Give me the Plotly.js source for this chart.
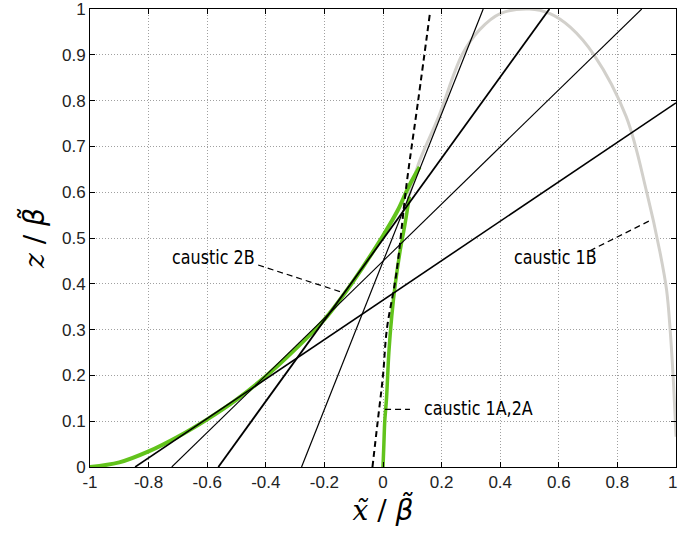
<!DOCTYPE html>
<html>
<head>
<meta charset="utf-8">
<script src="https://cdn.plot.ly/plotly-3.0.1.min.js"></script>
<style>
html,body{margin:0;padding:0;background:#fff;}
#chart{width:678px;height:535px;}
</style>
</head>
<body>
<div id="chart"></div>
<script>
// ---- data ----
// caustic 1B (grey arc)
const caustic1B_x = [0.085, 0.12, 0.19, 0.27, 0.33, 0.40, 0.50, 0.57, 0.64, 0.72, 0.83, 0.90, 0.945, 0.968, 0.98, 0.99, 0.997, 1.0];
const caustic1B_z = [0.58, 0.66, 0.765, 0.90, 0.955, 0.99, 1.0, 0.99, 0.96, 0.90, 0.765, 0.60, 0.47, 0.386, 0.30, 0.20, 0.11, 0.066];
// caustic 2B (green, left)
const caustic2B_x = [-1, -0.9, -0.8, -0.7, -0.6, -0.5, -0.4, -0.3, -0.2, -0.1, 0, 0.05, 0.09, 0.125];
const caustic2B_z = [0, 0.01, 0.034, 0.066, 0.104, 0.147, 0.198, 0.257, 0.322, 0.407, 0.505, 0.56, 0.615, 0.655];
// caustic 1A,2A (green, nearly vertical)
const caustic1A_x = [0, 0.003, 0.006, 0.012, 0.02, 0.03, 0.042, 0.058, 0.075, 0.09];
const caustic1A_z = [0, 0.05, 0.1, 0.15, 0.25, 0.33, 0.4, 0.47, 0.53, 0.59];
// dashed caustic
const dashed_x = [-0.036, -0.018, 0.0, 0.013, 0.045, 0.081, 0.12, 0.16];
const dashed_z = [0, 0.1, 0.2, 0.3, 0.42, 0.62, 0.8, 0.99];
// tangent rays (start, end)
const ray1_x = [-0.846, 1.0],  ray1_z = [0, 0.795];
const ray2_x = [-0.721, 0.883], ray2_z = [0, 1];
const ray3_x = [-0.562, 0.568], ray3_z = [0, 1];
const ray4_x = [-0.278, 0.342], ray4_z = [0, 1];
// label pointers
const ptr2B_x = [-0.426, -0.147], ptr2B_z = [0.441, 0.383];
const ptr1B_x = [0.706, 0.911],   ptr1B_z = [0.472, 0.538];
const ptr1A_x = [0.007, 0.092],   ptr1A_z = [0.126, 0.126];
// labels
const labelText = ["caustic 2B", "caustic 1B", "caustic 1A,2A"];
const labelX = [-0.727, 0.439, 0.132];
const labelZ = [0.4585, 0.458, 0.129];
// ticks
const xTicks = [-1, -0.8, -0.6, -0.4, -0.2, 0, 0.2, 0.4, 0.6, 0.8, 1];
const xTickText = ["-1", "-0.8", "-0.6", "-0.4", "-0.2", "0", "0.2", "0.4", "0.6", "0.8", "1"];
const yTicks = [0, 0.1, 0.2, 0.3, 0.4, 0.5, 0.6, 0.7, 0.8, 0.9, 1];
const yTickText = ["0", "0.1", "0.2", "0.3", "0.4", "0.5", "0.6", "0.7", "0.8", "0.9", "1"];

const green = '#62c31c';
function ln(x, y, color, width, dash, smooth) {
  const line = {color: color, width: width, dash: dash || 'solid'};
  if (smooth) { line.shape = 'spline'; line.smoothing = 1; }
  return {x: x, y: y, type: 'scatter', mode: 'lines', hoverinfo: 'skip', line: line};
}
const traces = [
  ln(caustic1B_x, caustic1B_z, '#d2d0cb', 3, 'solid', true),
  ln(caustic2B_x, caustic2B_z, green, 4, 'solid', true),
  ln(caustic1A_x, caustic1A_z, green, 3.5, 'solid', true),
  ln(ray1_x, ray1_z, '#000', 1.6),
  ln(ray2_x, ray2_z, '#000', 1.1),
  ln(ray3_x, ray3_z, '#000', 1.8),
  ln(ray4_x, ray4_z, '#000', 1.2),
  ln(dashed_x, dashed_z, '#000', 2, '6px,4px', true),
  ln(ptr2B_x, ptr2B_z, '#000', 1.2, '6px,4px'),
  ln(ptr1B_x, ptr1B_z, '#000', 1.2, '6px,4px'),
  ln(ptr1A_x, ptr1A_z, '#000', 1.2, '6px,4px')
];

const annFont = {family: '"DejaVu Sans", sans-serif', size: 19, color: '#000'};
const annotations = labelText.map((t, i) => ({
  x: labelX[i], y: labelZ[i], xref: 'x', yref: 'y', text: t, showarrow: false,
  xanchor: 'left', yanchor: 'middle', font: annFont
}));
// x tick label "1" at the right edge
annotations.push({x: xTicks[xTicks.length - 1], y: 0, xref: 'x', yref: 'paper', yshift: -15, xshift: 3,
  text: xTickText[xTickText.length - 1], showarrow: false, xanchor: 'right', yanchor: 'middle',
  font: {family: '"Liberation Sans", Arial, sans-serif', size: 17, color: '#222'}});

const axisCommon = {
  showline: true, linecolor: '#000', linewidth: 1, mirror: 'ticks',
  ticks: 'inside', ticklen: 5, tickcolor: '#000', tickwidth: 1,
  showgrid: true, gridcolor: '#a0a0a0', griddash: '1px,2px', gridwidth: 1,
  zeroline: false, tickmode: 'array', ticklabeloverflow: 'allow',
  tickfont: {family: '"Liberation Sans", Arial, sans-serif', size: 17, color: '#222'}
};

const betaT = '<span style="font-family:\'DejaVu Sans\'"><i>\u03B2\u0303</i></span>';
const layout = {
  width: 678, height: 535,
  margin: {l: 90, r: 2, t: 9, b: 68},
  paper_bgcolor: '#fff', plot_bgcolor: '#fff',
  showlegend: false,
  xaxis: Object.assign({}, axisCommon, {
    range: [-1, 1], tickvals: xTicks.slice(0, -1), ticktext: xTickText.slice(0, -1),
    title: {text: '<i>x\u0303</i> / ' + betaT, standoff: 8,
            font: {family: '"DejaVu Serif", serif', size: 28, color: '#000'}}
  }),
  yaxis: Object.assign({}, axisCommon, {
    range: [0, 1], tickvals: yTicks, ticktext: yTickText,
    title: {text: '<i>z</i> / ' + betaT, standoff: 9,
            font: {family: '"DejaVu Serif", serif', size: 28, color: '#000'}}
  }),
  annotations: annotations
};

Plotly.newPlot('chart', traces, layout, {staticPlot: true, displayModeBar: false}).then(gd => {
  // condense the label lettering horizontally (the reference uses a narrow typeface)
  const texts = gd.querySelectorAll('.annotation .annotation-text');
  texts.forEach((t, i) => {
    if (i >= labelText.length) return;
    const bb = t.getBBox();
    const s = 0.84;
    t.setAttribute('transform', 'matrix(' + s + ',0,0,1,' + (bb.x * (1 - s)) + ',0)');
  });
});
</script>
</body>
</html>
